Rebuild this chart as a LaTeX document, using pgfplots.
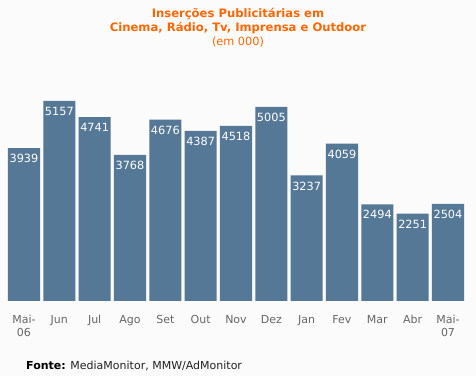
\documentclass[border=0pt]{standalone}
\usepackage{pgfplots}
\pgfplotsset{compat=1.18}
\usepackage{fontspec}
\setmainfont{DejaVu Sans}
\definecolor{bg}{HTML}{FBFBFB}
\definecolor{barc}{HTML}{557896}
\definecolor{ttl}{HTML}{FF6600}
\definecolor{tickc}{HTML}{666666}
\definecolor{srcc}{HTML}{222222}
\begin{document}
\begin{tikzpicture}
\fill[bg] (0,0) rectangle (476bp,376bp);
\begin{axis}[
  at={(6.33bp,75bp)}, anchor=south west,
  scale only axis, width=459.33bp, height=232.7bp,
  xmin=-0.5, xmax=12.5, ymin=0, ymax=6000,
  ybar, bar width=0.906,
  axis line style={draw=none}, tick style={draw=none},
  ytick=\empty,
  xtick=data,
  xticklabels={{Mai-\\06},Jun,Jul,Ago,Set,Out,Nov,Dez,Jan,Fev,Mar,Abr,{Mai-\\07}},
  x tick label style={font=\fontsize{11bp}{13bp}\selectfont, text=tickc, anchor=north, inner sep=0pt, yshift=-10bp, align=center},
  /pgf/number format/assume math mode=true,
  /pgf/number format/1000 sep={},
  nodes near coords,
  every node near coord/.append style={font=\fontsize{11.3bp}{13bp}\selectfont, text=white, anchor=north, inner sep=0pt, yshift=-6bp},
  clip=false,
]
\addplot[fill=barc, draw=none] coordinates {
(0,3939) (1,5157) (2,4741) (3,3768) (4,4676) (5,4387) (6,4518) (7,5005) (8,3237) (9,4059) (10,2494) (11,2251) (12,2504)};
\end{axis}
\node[font=\fontsize{11.6bp}{14bp}\selectfont\bfseries, text=ttl, align=center, anchor=center] at (238bp,355bp) {Inserções Publicitárias em\\Cinema, Rádio, Tv, Imprensa e Outdoor};
\node[font=\fontsize{11.3bp}{14bp}\selectfont, text=ttl, anchor=center] at (238bp,334bp) {(em 000)};
\node[font=\fontsize{11bp}{14bp}\selectfont, text=srcc, anchor=west, inner sep=0pt] at (26bp,10bp) {\textbf{\textcolor{black}{Fonte:}} MediaMonitor, MMW/AdMonitor};
\end{tikzpicture}
\end{document}
